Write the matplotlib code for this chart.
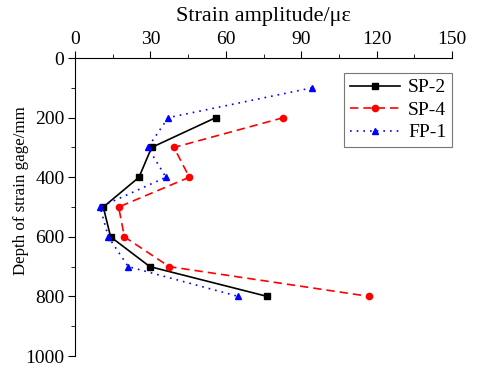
import matplotlib

matplotlib.use("Agg")
import matplotlib.pyplot as plt
from matplotlib.ticker import MultipleLocator

plt.rcParams["font.family"] = ["Liberation Serif", "DejaVu Serif"]

depth = [200, 300, 400, 500, 600, 700, 800]
depth_fp = [100, 200, 300, 400, 500, 600, 700, 800]
sp2 = [56, 30.5, 25.5, 11.3, 14.2, 29.8, 76.5]
sp4 = [82.9, 39.4, 45.5, 17.4, 19.7, 37.5, 117.1]
fp1 = [94.2, 37.1, 29.0, 36.2, 10.0, 13.3, 21.2, 65.0]

fig = plt.figure(figsize=(4.8, 3.82), dpi=100)
ax = fig.add_axes([0.156, 0.068, 0.786, 0.78])

ax.plot(sp2, depth, color="black", linestyle="-", marker="s", markersize=4.3,
        linewidth=1.2, label="SP-2")
ax.plot(sp4, depth, color="red", linestyle=(0, (5, 3)), marker="o", markersize=4.5,
        linewidth=1.2, label="SP-4")
ax.plot(fp1, depth_fp, color="blue", linestyle=(0, (1, 3)), marker="^", markersize=5,
        linewidth=1.2, label="FP-1")

ax.set_xlim(0, 150)
ax.set_ylim(1000, 0)
ax.xaxis.tick_top()
ax.xaxis.set_label_position("top")
ax.xaxis.set_major_locator(MultipleLocator(30))
ax.xaxis.set_minor_locator(MultipleLocator(15))
ax.yaxis.set_major_locator(MultipleLocator(200))
ax.yaxis.set_minor_locator(MultipleLocator(100))
ax.spines["right"].set_visible(False)
ax.spines["bottom"].set_visible(False)
ax.tick_params(which="major", direction="out", length=5, labelsize=14, pad=2.5)
ax.tick_params(which="minor", direction="out", length=3)

ax.set_xlabel("Strain amplitude/με", fontsize=16, labelpad=7)
ax.set_ylabel("Depth of strain gage/mm", fontsize=12.2)
ax.yaxis.set_label_coords(-0.122, 0.555)

leg = ax.legend(loc="upper right", bbox_to_anchor=(1.0, 0.95), fontsize=14,
                frameon=True, fancybox=False, edgecolor="#555555",
                handlelength=2.6, borderaxespad=0.0, borderpad=0.3,
                labelspacing=0.25, handletextpad=0.4)
leg.get_frame().set_linewidth(0.8)

fig.savefig("out.png", dpi=100)
